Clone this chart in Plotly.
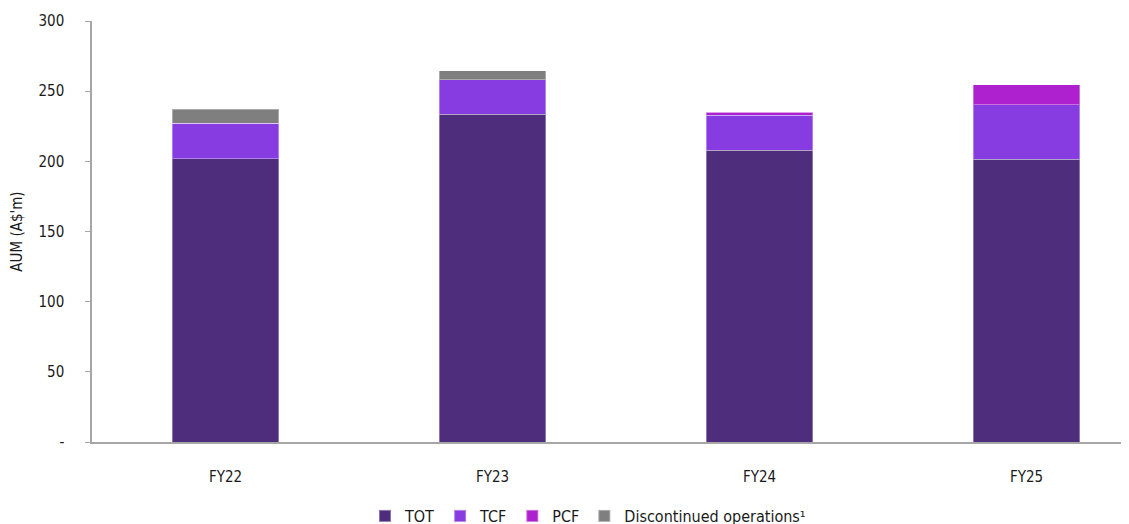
import plotly.graph_objects as go

categories = ["FY22", "FY23", "FY24", "FY25"]
tot = [202, 233.5, 208, 201.5]
tcf = [25, 24.5, 25, 39]
pcf = [0, 0, 2, 14]
disc = [10, 6.5, 0, 0]
y_ticks = [0, 50, 100, 150, 200, 250, 300]
y_tick_labels = ["-", "50", "100", "150", "200", "250", "300"]

FONT = "DejaVu Sans Condensed, Liberation Sans Narrow, Arial Narrow, Liberation Sans, Arial, sans-serif"

series = [
    ("TOT", tot, "#4E2D7C"),
    ("TCF", tcf, "#873CE2"),
    ("PCF", pcf, "#AD22CE"),
    ("Discontinued operations¹", disc, "#7F7F7F"),
]

fig = go.Figure()
for name, vals, col in series:
    fig.add_trace(go.Bar(
        x=categories, y=vals, name=name,
        marker=dict(color=col, line=dict(color="rgba(255,255,255,0.35)", width=1)),
        width=0.4,
    ))

fig.update_layout(
    barmode="stack",
    width=1129, height=524,
    margin=dict(l=84, r=8, t=13, b=90, autoexpand=False),
    paper_bgcolor="white", plot_bgcolor="white",
    font=dict(family=FONT, size=15, color="#1a1a1a"),
    legend=dict(orientation="h", xref="container", yref="container",
                x=357 / 1129, xanchor="left", y=16 / 524, yanchor="middle",
                font=dict(family=FONT, size=16), itemwidth=30,
                traceorder="normal", itemsizing="constant"),
    xaxis=dict(range=[-0.5, 3.384], showline=True, linecolor="#A6A6A6", linewidth=1.5,
               ticks="", tickfont=dict(family=FONT, size=15), ticklabelstandoff=20,
               showgrid=False, zeroline=False, automargin=False),
    yaxis=dict(range=[0, 300], tickvals=y_ticks, ticktext=y_tick_labels,
               showline=True, linecolor="#A6A6A6", linewidth=1.5,
               ticks="outside", ticklen=5, tickcolor="#A6A6A6",
               tickfont=dict(family=FONT, size=15), showgrid=False, zeroline=False,
               title=dict(text="AUM (A$'m)", font=dict(family=FONT, size=15), standoff=18),
               ticklabelstandoff=18, automargin=False),
)

fig.write_html("out.html")
